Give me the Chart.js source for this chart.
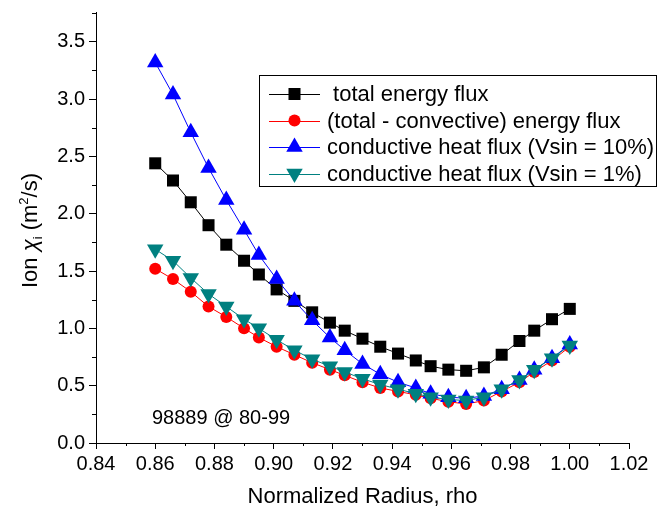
<!DOCTYPE html>
<html>
<head>
<meta charset="utf-8">
<title>Ion chi_i vs rho</title>
<script src="https://cdn.jsdelivr.net/npm/chart.js@4.4.1/dist/chart.umd.min.js"></script>
<style>
    html, body { margin: 0; padding: 0; background: #fff; }
    #wrap { width: 664px; height: 512px; }
</style>
</head>
<body>
<div id="wrap"><canvas id="chiChart" width="664" height="512"></canvas></div>
<script>
// ======== DATA ========
const rho = [0.860, 0.866, 0.872, 0.878, 0.884, 0.890, 0.895, 0.901, 0.907, 0.913, 0.919, 0.924,
    0.930, 0.936, 0.942, 0.948, 0.953, 0.959, 0.965, 0.971, 0.977, 0.983, 0.988, 0.994, 1.000];

const totalFlux = [2.44, 2.29, 2.10, 1.90, 1.73, 1.59, 1.47, 1.34, 1.24, 1.14, 1.05, 0.98,
    0.91, 0.84, 0.78, 0.72, 0.67, 0.64, 0.63, 0.66, 0.77, 0.89, 0.98, 1.08, 1.17];

const totalMinusConv = [1.52, 1.43, 1.32, 1.19, 1.10, 1.00, 0.92, 0.84, 0.77, 0.70, 0.64, 0.59,
    0.53, 0.48, 0.45, 0.42, 0.39, 0.36, 0.34, 0.37, 0.45, 0.53, 0.62, 0.72, 0.84];

const condVsin10 = [3.32, 3.04, 2.71, 2.40, 2.12, 1.86, 1.64, 1.43, 1.24, 1.07, 0.92, 0.81,
    0.69, 0.60, 0.53, 0.48, 0.43, 0.40, 0.39, 0.41, 0.47, 0.55, 0.64, 0.74, 0.86];

const condVsin1 = [1.69, 1.59, 1.44, 1.30, 1.19, 1.08, 1.00, 0.90, 0.81, 0.73, 0.67, 0.62,
    0.56, 0.51, 0.47, 0.43, 0.40, 0.38, 0.37, 0.40, 0.47, 0.55, 0.64, 0.74, 0.85];

const seriesNames = [
    ' total energy flux',
    '(total - convective) energy flux',
    'conductive heat flux (Vsin = 10%)',
    'conductive heat flux (Vsin = 1%)'
];

const xTickValues = [0.84, 0.86, 0.88, 0.90, 0.92, 0.94, 0.96, 0.98, 1.00, 1.02];
const yTickValues = [0.0, 0.5, 1.0, 1.5, 2.0, 2.5, 3.0, 3.5];

const shotNote = '98889 @ 80-99';

// y title pieces: [text, size, baseline shift, italic]
const yTitleParts = [
    ['Ion ', 22, 0, false],
    ['χ', 22, 0, true],
    ['i', 13, 5, false],
    [' (m', 22, 0, false],
    ['2', 13, -9, false],
    ['/s)', 22, 0, false]
];

const FONT = "'Liberation Sans', Arial, sans-serif";

// one scatter+line dataset
function series(label, values, color, style, radius, rotation, order) {
    return {
        label: label,
        data: rho.map((x, i) => ({ x: x, y: values[i] })),
        showLine: true,
        tension: 0,
        borderColor: color,
        backgroundColor: color,
        borderWidth: 1,
        pointStyle: style,
        pointRadius: radius,
        pointRotation: rotation,
        pointBorderWidth: 0,
        order: order
    };
}

function partFont(p) {
    return (p[3] ? 'italic ' : '') + p[1] + 'px ' + FONT;
}

// minor ticks, y title, legend box and the shot note
const extras = {
    id: 'extras',
    afterDraw(chart) {
        const ctx = chart.ctx;
        const xs = chart.scales.x;
        const ys = chart.scales.y;
        ctx.save();

        // minor ticks
        ctx.strokeStyle = '#000';
        ctx.lineWidth = 1;
        ctx.beginPath();
        for (let i = 0; i < xTickValues.length - 1; i++) {
            const px = Math.round(xs.getPixelForValue((xTickValues[i] + xTickValues[i + 1]) / 2)) + 0.5;
            ctx.moveTo(px, ys.bottom);
            ctx.lineTo(px, ys.bottom + 3);
        }
        const yStep = yTickValues[1] - yTickValues[0];
        for (let i = 0; i < yTickValues.length; i++) {
            const v = yTickValues[i] + yStep / 2;
            if (v > ys.max) continue;
            const py = Math.round(ys.getPixelForValue(v)) + 0.5;
            ctx.moveTo(xs.left, py);
            ctx.lineTo(xs.left - 4, py);
        }
        ctx.stroke();

        // y title with sub/superscript
        ctx.save();
        ctx.translate(37, (ys.top + ys.bottom) / 2 + 3);
        ctx.rotate(-Math.PI / 2);
        ctx.fillStyle = '#000';
        ctx.textBaseline = 'alphabetic';
        ctx.textAlign = 'left';
        let total = 0;
        yTitleParts.forEach(p => { ctx.font = partFont(p); total += ctx.measureText(p[0]).width; });
        let tx = -total / 2;
        yTitleParts.forEach(p => {
            ctx.font = partFont(p);
            ctx.fillText(p[0], tx, p[2]);
            tx += ctx.measureText(p[0]).width;
        });
        ctx.restore();

        // legend
        const box = { x: 259.5, y: 75.5, w: 397, h: 111 };
        ctx.strokeStyle = '#000';
        ctx.strokeRect(box.x, box.y, box.w, box.h);
        ctx.font = '22px ' + FONT;
        ctx.textBaseline = 'middle';
        ctx.textAlign = 'left';
        chart.data.datasets.forEach((ds, i) => {
            const cy = 94 + i * 26.5;
            ctx.strokeStyle = ds.borderColor;
            ctx.lineWidth = 1;
            ctx.beginPath();
            ctx.moveTo(269, Math.round(cy) + 0.5);
            ctx.lineTo(320, Math.round(cy) + 0.5);
            ctx.stroke();
            ctx.fillStyle = ds.backgroundColor;
            Chart.helpers.drawPoint(ctx, {
                pointStyle: ds.pointStyle,
                rotation: ds.pointRotation,
                radius: ds.pointRadius,
                borderWidth: 0
            }, 294.5, cy);
            ctx.fillStyle = '#000';
            ctx.fillText(seriesNames[i], 327, cy + 1);
        });

        // shot / time note
        ctx.font = '20px ' + FONT;
        ctx.textBaseline = 'alphabetic';
        ctx.fillStyle = '#000';
        ctx.fillText(shotNote, xs.getPixelForValue(0.8589), ys.getPixelForValue(0.17));

        ctx.restore();
    }
};

new Chart(document.getElementById('chiChart'), {
    type: 'scatter',
    data: {
        datasets: [
            series(seriesNames[0], totalFlux, '#000000', 'rect', 8.5, 0, 3),
            series(seriesNames[1], totalMinusConv, '#ff0000', 'circle', 6, 0, 2),
            series(seriesNames[2], condVsin10, '#0000ff', 'triangle', 9.5, 0, 1),
            series(seriesNames[3], condVsin1, '#008080', 'triangle', 9.5, 180, 0)
        ]
    },
    options: {
        responsive: false,
        animation: false,
        events: [],
        layout: { padding: { top: 12, right: 35, left: 0, bottom: 0 } },
        plugins: {
            legend: { display: false },
            tooltip: { enabled: false }
        },
        scales: {
            x: {
                type: 'linear',
                min: 0.84,
                max: 1.02,
                afterBuildTicks: s => { s.ticks = xTickValues.map(v => ({ value: v })); },
                afterFit: s => { s.height = 69; s.paddingLeft = 0; s.paddingRight = 0; },
                grid: { drawOnChartArea: false, tickLength: 6, tickColor: '#000' },
                border: { color: '#000', width: 1 },
                ticks: {
                    color: '#000',
                    padding: 3,
                    maxRotation: 0,
                    autoSkip: false,
                    font: { family: FONT, size: 20 },
                    callback: v => Number(v).toFixed(2)
                },
                title: {
                    display: true,
                    text: 'Normalized Radius, rho',
                    color: '#000',
                    font: { family: FONT, size: 22 },
                    padding: { top: 0, bottom: 2 }
                }
            },
            y: {
                type: 'linear',
                min: 0,
                max: 3.76,
                afterBuildTicks: s => { s.ticks = yTickValues.map(v => ({ value: v })); },
                afterFit: s => { s.width = 96; s.paddingTop = 0; s.paddingBottom = 0; },
                grid: { drawOnChartArea: false, tickLength: 7, tickColor: '#000' },
                border: { color: '#000', width: 1 },
                ticks: {
                    color: '#000',
                    padding: 4,
                    font: { family: FONT, size: 20 },
                    callback: v => Number(v).toFixed(1)
                },
                title: { display: false }
            }
        }
    },
    plugins: [extras]
});
</script>
</body>
</html>
